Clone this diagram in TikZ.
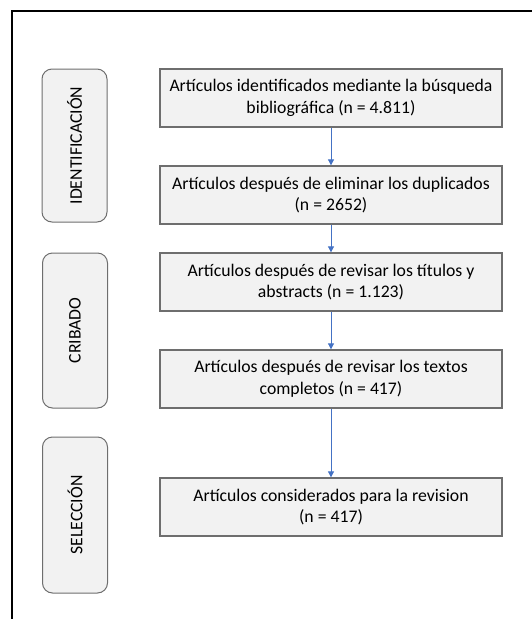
\documentclass[tikz,border=0pt]{standalone}
\usepackage{fontspec}
\setmainfont{Carlito}
\usetikzlibrary{arrows.meta}
\definecolor{boxfill}{HTML}{F2F2F2}
\definecolor{boxline}{HTML}{6E6E6E}
\definecolor{arrowblue}{HTML}{4472C4}
\tikzset{
  x=1pt, y=-1pt,
  stepbox/.style={draw=boxline, line width=1.3pt, fill=boxfill, inner sep=0pt,
    minimum width=342pt, minimum height=58pt, align=center,
    font=\fontsize{17.7}{21.7}\selectfont},
  phase/.style={draw=boxline, line width=1pt, fill=boxfill, rounded corners=10pt,
    minimum height=65pt, inner sep=0pt, rotate=90,
    font=\fontsize{17.7}{20}\selectfont},
  flow/.style={draw=arrowblue, line width=0.8pt,
    -{Triangle[length=6pt,width=6pt]}},
}
\begin{document}
\begin{tikzpicture}
\useasboundingbox (0,0) rectangle (531,619);
% outer frame (runs past the right and bottom edges)
\draw[line width=2pt] (12,630) -- (12,11) -- (540,11);

% phase labels
\node[phase, minimum width=153pt] (ident) at (74.5,145.5) {IDENTIFICACIÓN};
\node[phase, minimum width=155pt] (crib) at (75,330.5) {CRIBADO};
\node[phase, minimum width=156pt] (selec) at (75,515) {SELECCIÓN};

% process boxes
\node[stepbox] (b1) at (331,98) {Artículos identificados mediante la búsqueda\\bibliográfica (n = 4.811)};
\node[stepbox] (b2) at (331,195) {Artículos después de eliminar los duplicados\\(n = 2652)};
\node[stepbox] (b3) at (331,282) {Artículos después de revisar los títulos y\\abstracts (n = 1.123)};
\node[stepbox] (b4) at (331,379) {Artículos después de revisar los textos\\completos (n = 417)};
\node[stepbox] (b5) at (331,507) {Artículos considerados para la revision\\(n = 417)};

% connectors
\draw[flow] (b1) -- (b2);
\draw[flow] (b2) -- (b3);
\draw[flow] (b3) -- (b4);
\draw[flow] (b4) -- (b5);
\end{tikzpicture}
\end{document}
